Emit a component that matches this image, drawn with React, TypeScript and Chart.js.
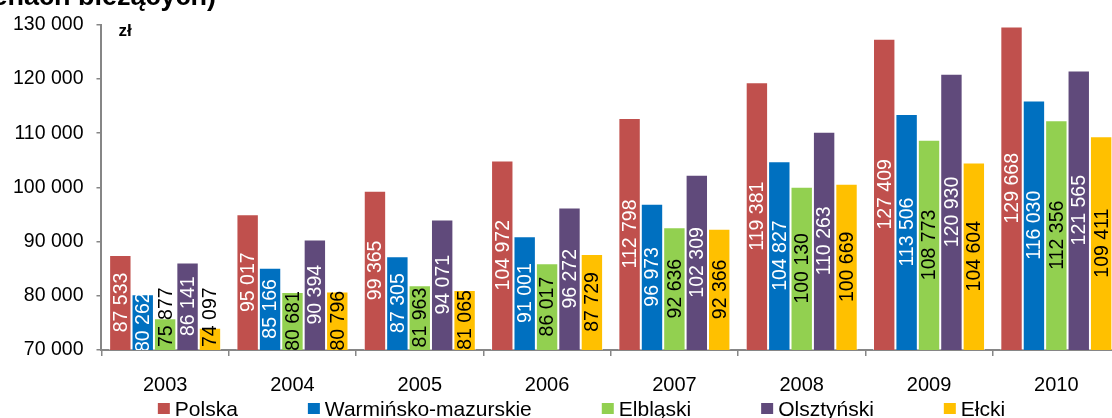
import React, { useEffect, useRef } from "react";
import { Chart, registerables } from "chart.js";

Chart.register(...registerables);

const categories = ["2003", "2004", "2005", "2006", "2007", "2008", "2009", "2010"];

const seriesNames = ["Polska", "Warmińsko-mazurskie", "Elbląski", "Olsztyński", "Ełcki"];
const seriesColors = ["#C0504D", "#0070C0", "#92D050", "#604A7B", "#FFC000"];
const labelColors = ["#FFFFFF", "#FFFFFF", "#000000", "#FFFFFF", "#000000"];

const polska = [87533, 95017, 99365, 104972, 112798, 119381, 127409, 129668];
const warminskoMazurskie = [80262, 85166, 87305, 91001, 96973, 104827, 113506, 116030];
const elblaski = [75877, 80681, 81963, 86017, 92636, 100130, 108773, 112356];
const olsztynski = [86141, 90394, 94071, 96272, 102309, 110263, 120930, 121565];
const elcki = [74097, 80796, 81065, 87729, 92366, 100669, 104604, 109411];

const seriesValues = [polska, warminskoMazurskie, elblaski, olsztynski, elcki];

const yMin = 70000;
const yMax = 130000;
const yStep = 10000;

const titleText = "(w cenach bieżących)";
const unitText = "zł";

const FONT = '"Liberation Sans", Arial, sans-serif';

const fmt = (v: number) => String(Math.round(v)).replace(/\B(?=(\d{3})+(?!\d))/g, " ");

const barLabelPlugin = {
  id: "barLabels",
  afterDraw(chart: any) {
    const ctx = chart.ctx;
    const area = chart.chartArea;
    const yScale = chart.scales.y;
    ctx.save();
    ctx.beginPath();
    ctx.rect(area.left, area.top, area.right - area.left, area.bottom - area.top);
    ctx.clip();
    ctx.font = "19.5px " + FONT;
    ctx.textAlign = "center";
    ctx.textBaseline = "middle";
    const n = chart.data.datasets.length;
    for (let di = 0; di < n; di++) {
      const ds = chart.data.datasets[di];
      const meta = chart.getDatasetMeta(di);
      for (let i = 0; i < meta.data.length; i++) {
        const el: any = meta.data[i];
        const value = ds.data[i] as number;
        const text = fmt(value);
        const w = ctx.measureText(text).width;
        const top = yScale.getPixelForValue(value);
        const base = area.bottom;
        const h = base - top;
        let cy = (top + base) / 2;
        if (w > h + 20) cy = base - w / 2 - 3;
        ctx.save();
        ctx.translate(el.x, cy);
        ctx.rotate(-Math.PI / 2);
        ctx.fillStyle = labelColors[di];
        ctx.fillText(text, 0, 1);
        ctx.restore();
      }
    }
    ctx.restore();
  },
};

const decorPlugin = {
  id: "decor",
  afterDraw(chart: any) {
    const ctx = chart.ctx;
    const area = chart.chartArea;
    ctx.save();
    ctx.font = "bold 27px " + FONT;
    ctx.fillStyle = "#000";
    ctx.textAlign = "right";
    ctx.textBaseline = "alphabetic";
    ctx.fillText(titleText, 216, 5);
    ctx.font = "bold 17px " + FONT;
    ctx.textAlign = "left";
    ctx.fillText(unitText, area.left + 17, 36);
    ctx.font = "21px " + FONT;
    const box = 12;
    const boxGap = 5;
    const itemGap = 70;
    const widths = seriesNames.map((s) => ctx.measureText(s).width);
    const total = widths.reduce((a, w) => a + box + boxGap + w, 0) + itemGap * (seriesNames.length - 1);
    let x = 581.5 - total / 2;
    const baseline = 416;
    seriesNames.forEach((s, i) => {
      ctx.fillStyle = seriesColors[i];
      ctx.fillRect(x, baseline - 13, box, 11);
      ctx.fillStyle = "#000";
      ctx.fillText(s, x + box + boxGap, baseline);
      x += box + boxGap + widths[i] + itemGap;
    });
    ctx.restore();
  },
};

export default function App() {
  const canvasRef = useRef<HTMLCanvasElement | null>(null);

  useEffect(() => {
    if (!canvasRef.current) return;
    const chart = new Chart(canvasRef.current, {
      type: "bar",
      data: {
        labels: categories,
        datasets: seriesNames.map((name, i) => ({
          label: name,
          data: seriesValues[i],
          backgroundColor: seriesColors[i],
          borderColor: "rgba(255,255,255,0.55)",
          borderWidth: 1,
          categoryPercentage: 0.88,
          barPercentage: 1,
        })),
      },
      options: {
        responsive: false,
        animation: false,
        layout: { padding: { left: 0, right: 10, top: 21, bottom: 4 } },
        plugins: {
          legend: { display: false },
          tooltip: { enabled: false },
          title: { display: false },
        },
        scales: {
          x: {
            offset: true,
            grid: {
              offset: true,
              drawOnChartArea: false,
              drawTicks: true,
              tickLength: 6,
              color: "#868686",
              lineWidth: 1.5,
            },
            border: { color: "#868686", width: 2 },
            ticks: {
              color: "#000",
              padding: 17,
              font: { family: FONT, size: 20 },
            },
          },
          y: {
            min: yMin,
            max: yMax,
            grid: {
              drawOnChartArea: false,
              drawTicks: true,
              tickLength: 5,
              color: "#868686",
              lineWidth: 1.5,
            },
            border: { color: "#868686", width: 2 },
            ticks: {
              stepSize: yStep,
              color: "#000",
              padding: 13,
              font: { family: FONT, size: 19.5 },
              callback: (v: any) => fmt(Number(v)),
            },
          },
        },
      },
      plugins: [barLabelPlugin, decorPlugin],
    });
    return () => chart.destroy();
  }, []);

  return (
    <div
      style={{
        position: "absolute",
        left: 0,
        top: 0,
        width: 1112,
        height: 418,
        overflow: "hidden",
        background: "#fff",
      }}
    >
      <canvas ref={canvasRef} width={1130} height={418} style={{ display: "block", width: 1130, height: 418 }} />
    </div>
  );
}
